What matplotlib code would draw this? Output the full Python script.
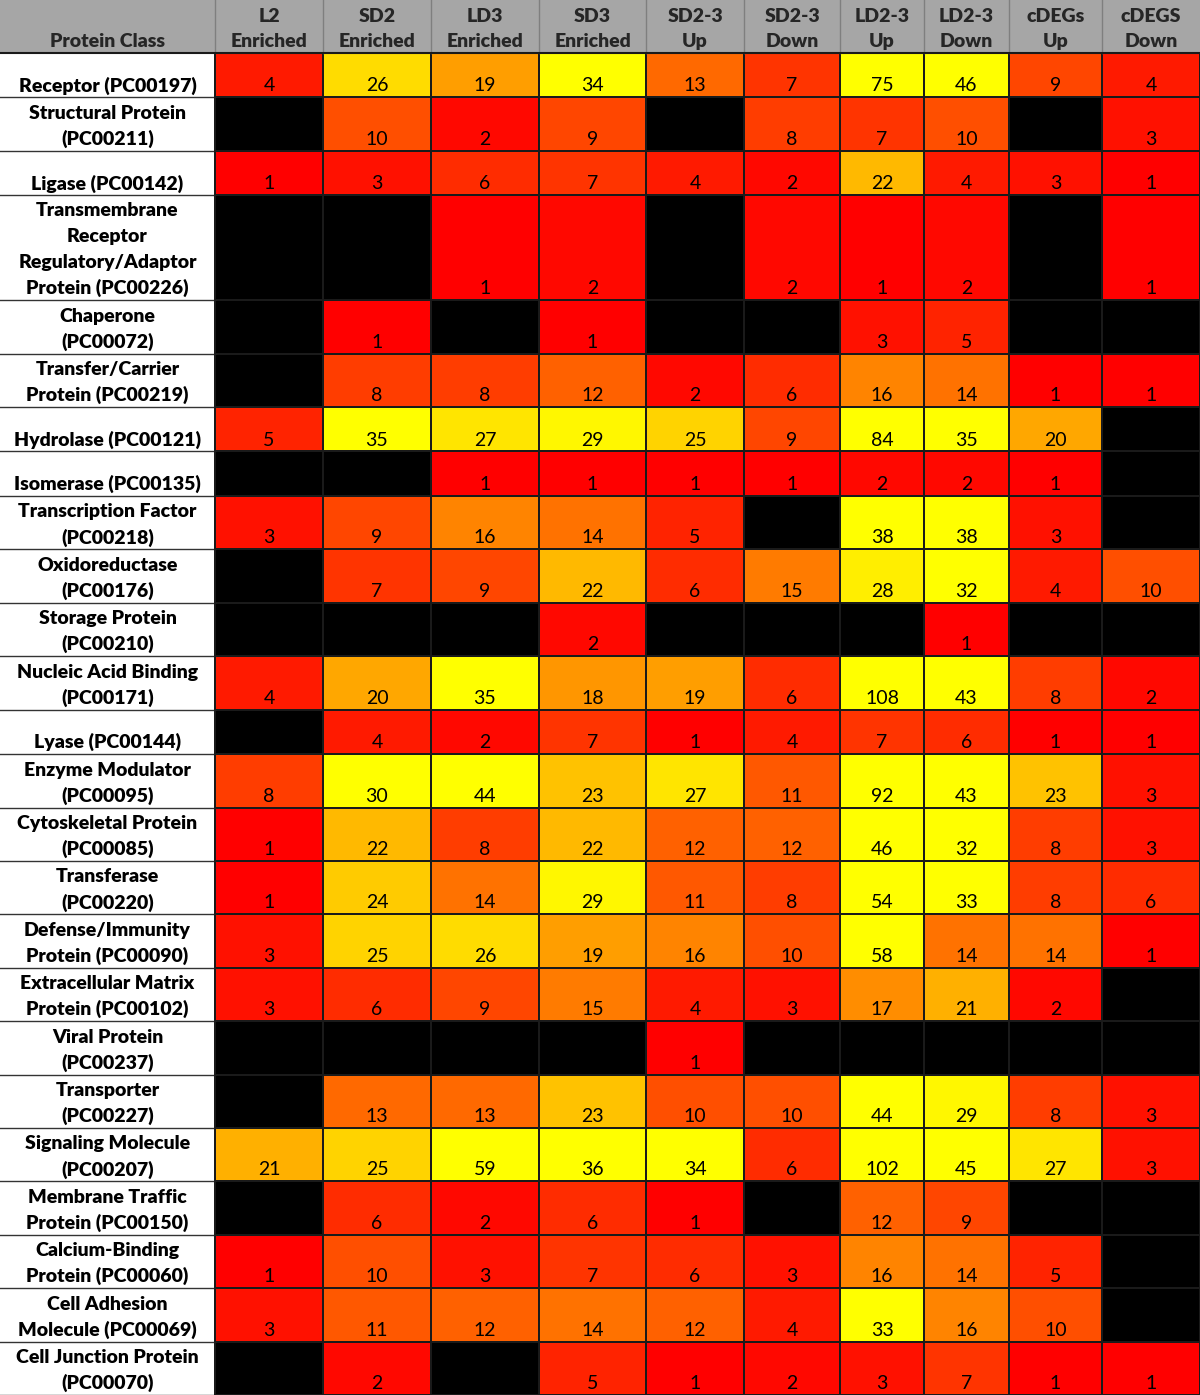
import numpy as np
import matplotlib.pyplot as plt
from matplotlib.colors import LinearSegmentedColormap, Normalize
from matplotlib.patches import Rectangle

plt.rcParams['font.family'] = ['Lato', 'DejaVu Sans']

columns = ["L2\nEnriched", "SD2\nEnriched", "LD3\nEnriched", "SD3\nEnriched",
           "SD2-3\nUp", "SD2-3\nDown", "LD2-3\nUp", "LD2-3\nDown",
           "cDEGs\nUp", "cDEGS\nDown"]

classes = ["Receptor (PC00197)", "Structural Protein\n(PC00211)", "Ligase (PC00142)",
           "Transmembrane\nReceptor\nRegulatory/Adaptor\nProtein (PC00226)",
           "Chaperone\n(PC00072)", "Transfer/Carrier\nProtein (PC00219)",
           "Hydrolase (PC00121)", "Isomerase (PC00135)",
           "Transcription Factor\n(PC00218)", "Oxidoreductase\n(PC00176)",
           "Storage Protein\n(PC00210)", "Nucleic Acid Binding\n(PC00171)",
           "Lyase (PC00144)", "Enzyme Modulator\n(PC00095)",
           "Cytoskeletal Protein\n(PC00085)", "Transferase\n(PC00220)",
           "Defense/Immunity\nProtein (PC00090)", "Extracellular Matrix\nProtein (PC00102)",
           "Viral Protein\n(PC00237)", "Transporter\n(PC00227)",
           "Signaling Molecule\n(PC00207)", "Membrane Traffic\nProtein (PC00150)",
           "Calcium-Binding\nProtein (PC00060)", "Cell Adhesion\nMolecule (PC00069)",
           "Cell Junction Protein\n(PC00070)"]

# None = no genes in that class (black cell)
counts = [
    [4, 26, 19, 34, 13, 7, 75, 46, 9, 4],
    [None, 10, 2, 9, None, 8, 7, 10, None, 3],
    [1, 3, 6, 7, 4, 2, 22, 4, 3, 1],
    [None, None, 1, 2, None, 2, 1, 2, None, 1],
    [None, 1, None, 1, None, None, 3, 5, None, None],
    [None, 8, 8, 12, 2, 6, 16, 14, 1, 1],
    [5, 35, 27, 29, 25, 9, 84, 35, 20, None],
    [None, None, 1, 1, 1, 1, 2, 2, 1, None],
    [3, 9, 16, 14, 5, None, 38, 38, 3, None],
    [None, 7, 9, 22, 6, 15, 28, 32, 4, 10],
    [None, None, None, 2, None, None, None, 1, None, None],
    [4, 20, 35, 18, 19, 6, 108, 43, 8, 2],
    [None, 4, 2, 7, 1, 4, 7, 6, 1, 1],
    [8, 30, 44, 23, 27, 11, 92, 43, 23, 3],
    [1, 22, 8, 22, 12, 12, 46, 32, 8, 3],
    [1, 24, 14, 29, 11, 8, 54, 33, 8, 6],
    [3, 25, 26, 19, 16, 10, 58, 14, 14, 1],
    [3, 6, 9, 15, 4, 3, 17, 21, 2, None],
    [None, None, None, None, 1, None, None, None, None, None],
    [None, 13, 13, 23, 10, 10, 44, 29, 8, 3],
    [21, 25, 59, 36, 34, 6, 102, 45, 27, 3],
    [None, 6, 2, 6, 1, None, 12, 9, None, None],
    [1, 10, 3, 7, 6, 3, 16, 14, 5, None],
    [3, 11, 12, 14, 12, 4, 33, 16, 10, None],
    [None, 2, None, 5, 1, 2, 3, 7, 1, 1],
]

# layout (pixels)
col_w = [215, 108, 108, 108, 107, 98, 96, 84, 85, 93, 98]
header_h = 53
line_h = {1: 44.6, 2: 53.5, 4: 105}
row_h = [line_h[c.count("\n") + 1] for c in classes]

x_edges = np.concatenate([[0], np.cumsum(col_w)])
y_edges = header_h + np.concatenate([[0], np.cumsum(row_h)])
total_h = y_edges[-1]

fig = plt.figure(figsize=(12, 13.95), dpi=100)
ax = fig.add_axes([0, 0, 1, 1])
ax.set_xlim(0, 1200)
ax.set_ylim(total_h, 0)
ax.axis("off")

vals = np.ma.masked_invalid(np.array([[np.nan if v is None else v for v in r] for r in counts], dtype=float))
cmap = LinearSegmentedColormap.from_list("ry", ["#FF0000", "#FFFF00"])
cmap.set_bad("black")
ax.pcolormesh(x_edges[1:], y_edges, vals, cmap=cmap, norm=Normalize(1, 30),
              edgecolors="#1a1a1a", linewidth=1.2)

# header
ax.add_patch(Rectangle((0, 0), 1200, header_h, facecolor="#A6A6A6", edgecolor="none"))
for x in x_edges[1:-1]:
    ax.plot([x, x], [0, header_h], color="#7F7F7F", lw=1)
ax.plot([0, 1200], [header_h, header_h], color="#1a1a1a", lw=1.5)
ax.text(x_edges[0] + col_w[0] / 2, header_h - 6, "Protein Class", ha="center", va="baseline",
        fontsize=14, fontweight="heavy", color="#262626")
for j, name in enumerate(columns):
    cx = (x_edges[j + 1] + x_edges[j + 2]) / 2
    for k, line in enumerate(reversed(name.split("\n"))):
        ax.text(cx, header_h - 6 - 25 * k, line, ha="center", va="baseline",
                fontsize=14, fontweight="heavy", color="#262626")

# label column
for y in y_edges[1:]:
    ax.plot([0, x_edges[1]], [y, y], color="#333333", lw=1)
ax.plot([x_edges[1], x_edges[1]], [header_h, total_h], color="#1a1a1a", lw=1.2)

for i, label in enumerate(classes):
    yb = y_edges[i + 1] - 6
    for k, line in enumerate(reversed(label.split("\n"))):
        ax.text(x_edges[0] + col_w[0] / 2, yb - 26 * k, line, ha="center", va="baseline",
                fontsize=14, fontweight="heavy", color="black")
    for j, v in enumerate(counts[i]):
        if v is None:
            continue
        cx = (x_edges[j + 1] + x_edges[j + 2]) / 2
        ax.text(cx, yb, str(v), ha="center", va="baseline", fontsize=14, color="black")

fig.savefig("out.png", dpi=100, facecolor="white")
